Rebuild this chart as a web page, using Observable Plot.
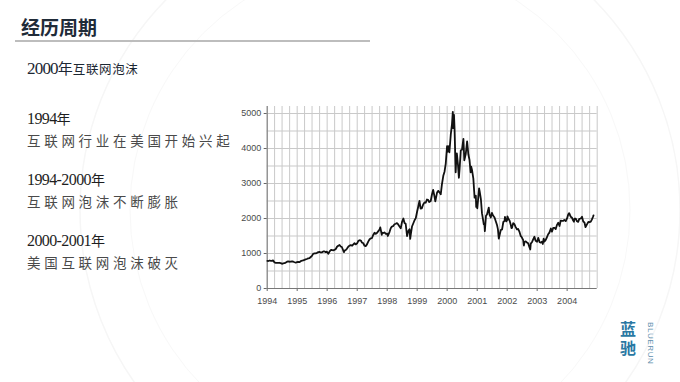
<!DOCTYPE html>
<html>
<head>
<meta charset="utf-8">
<script src="https://cdn.jsdelivr.net/npm/d3@7"></script>
<script src="https://cdn.jsdelivr.net/npm/@observablehq/plot@0.6"></script>
<style>
  html, body { margin: 0; padding: 0; background: #ffffff; }
  #slide { position: relative; width: 680px; height: 382px; overflow: hidden; background: #fff; }
  #chart { position: absolute; left: 0; top: 0; }
  .t { position: absolute; white-space: nowrap; line-height: 1; }
  .cjk { font-family: "Noto Sans CJK SC", sans-serif; }
  .ser { font-family: "Liberation Serif", "DejaVu Serif", serif; }
  #title { left: 21px; top: 17px; font-size: 19px; font-weight: 700; color: #1f2b38; }
  #rule { position: absolute; left: 15px; top: 40px; width: 355px; height: 1.5px; background: #bdbdbd; }
  #sub { left: 27px; top: 60px; color: #1c2733; }
  .yr { font-size: 16px; color: #1e1e1e; letter-spacing: -0.6px; }
  .yrc { font-size: 14px; color: #1e1e1e; }
  .desc { font-size: 13.5px; color: #4a4a4a; letter-spacing: 3.7px; font-weight: 400; }
  #logo { font-family: "Noto Sans CJK SC", sans-serif; font-weight: 700; font-size: 16px; line-height: 1; writing-mode: vertical-rl; text-orientation: upright; letter-spacing: 2.5px; color: #2a78a3; }
  #logo3 { font-family: "Liberation Sans", sans-serif; font-size: 8px; color: #5f8fae; letter-spacing: 0.6px; transform-origin: 0 0; transform: rotate(90deg); }
</style>
</head>
<body>
<div id="slide">
  <svg id="bg" width="680" height="382" style="position:absolute;left:0;top:0">
    <circle cx="380" cy="210" r="300" fill="none" stroke="#f6f6f6" stroke-width="1.5"/>
    <circle cx="380" cy="210" r="250" fill="none" stroke="#f8f8f8" stroke-width="1"/>
  </svg>
  <div id="chart"></div>
  <div class="t cjk" id="title">经历周期</div>
  <div id="rule"></div>
  <div class="t" id="sub"><span class="ser" style="font-size:17px;letter-spacing:-0.8px">2000</span><span class="cjk" style="font-size:15px">年</span><span class="cjk" style="font-size:12.5px;letter-spacing:0.6px">互联网泡沫</span></div>

  <div class="t" style="left:27px;top:111px"><span class="ser yr">1994</span><span class="cjk yrc">年</span></div>
  <div class="t cjk desc" style="left:27px;top:134px">互联网行业在美国开始兴起</div>

  <div class="t" style="left:27px;top:172px"><span class="ser yr">1994-2000</span><span class="cjk yrc">年</span></div>
  <div class="t cjk desc" style="left:27px;top:195px">互联网泡沫不断膨胀</div>

  <div class="t" style="left:27px;top:233px"><span class="ser yr">2000-2001</span><span class="cjk yrc">年</span></div>
  <div class="t cjk desc" style="left:27px;top:256px">美国互联网泡沫破灭</div>

  <div class="t" id="logo" style="left:620px;top:321px">蓝驰</div>
  <div class="t" id="logo3" style="left:654px;top:322px">BLUERUN</div>
</div>
<script>
// ---- data (NASDAQ composite) ----
const dates = [
"1994-01-03","1994-01-15","1994-01-31","1994-02-15","1994-02-28","1994-03-15","1994-03-31","1994-04-15","1994-04-29","1994-05-15","1994-05-31","1994-06-15","1994-06-30","1994-07-15","1994-07-29","1994-08-15","1994-08-31","1994-09-15","1994-09-30","1994-10-14","1994-10-31","1994-11-15","1994-11-30","1994-12-15","1994-12-30",
"1995-01-13","1995-01-31","1995-02-15","1995-02-28","1995-03-15","1995-03-31","1995-04-13","1995-04-28","1995-05-15","1995-05-31","1995-06-15","1995-06-30","1995-07-14","1995-07-31","1995-08-15","1995-08-31","1995-09-15","1995-09-29","1995-10-13","1995-10-31","1995-11-15","1995-11-30","1995-12-15","1995-12-29",
"1996-01-15","1996-01-31","1996-02-15","1996-02-29","1996-03-15","1996-03-29","1996-04-15","1996-04-30","1996-05-15","1996-05-31","1996-06-14","1996-06-28","1996-07-15","1996-07-24","1996-07-31","1996-08-15","1996-08-30","1996-09-16","1996-09-30","1996-10-15","1996-10-31","1996-11-15","1996-11-29","1996-12-13","1996-12-31",
"1997-01-15","1997-01-31","1997-02-14","1997-02-28","1997-03-14","1997-03-31","1997-04-14","1997-04-30","1997-05-15","1997-05-30","1997-06-13","1997-06-30","1997-07-15","1997-07-31","1997-08-15","1997-08-29","1997-09-15","1997-09-30","1997-10-09","1997-10-27","1997-10-31","1997-11-14","1997-11-28","1997-12-15","1997-12-31",
"1998-01-09","1998-01-30","1998-02-13","1998-02-27","1998-03-13","1998-03-31","1998-04-15","1998-04-30","1998-05-15","1998-05-29","1998-06-15","1998-06-30","1998-07-17","1998-07-31","1998-08-14","1998-08-31","1998-09-15","1998-09-30","1998-10-08","1998-10-15","1998-10-30","1998-11-13","1998-11-30","1998-12-15","1998-12-31",
"1999-01-15","1999-01-29","1999-02-12","1999-02-26","1999-03-15","1999-03-31","1999-04-15","1999-04-30","1999-05-14","1999-05-28","1999-06-15","1999-06-30","1999-07-15","1999-07-30","1999-08-10","1999-08-31","1999-09-15","1999-09-30","1999-10-15","1999-10-29","1999-11-15","1999-11-30","1999-12-15","1999-12-31",
"2000-01-04","2000-01-14","2000-01-28","2000-02-15","2000-02-29","2000-03-10","2000-03-15","2000-03-24","2000-03-31","2000-04-14","2000-04-20","2000-04-28","2000-05-12","2000-05-23","2000-05-31","2000-06-15","2000-06-30","2000-07-17","2000-07-28","2000-08-15","2000-08-31","2000-09-15","2000-09-29","2000-10-13","2000-10-20","2000-10-31","2000-11-15","2000-11-30","2000-12-15","2000-12-20","2000-12-29",
"2001-01-02","2001-01-24","2001-01-31","2001-02-15","2001-02-28","2001-03-15","2001-03-22","2001-03-30","2001-04-04","2001-04-18","2001-04-30","2001-05-22","2001-05-31","2001-06-15","2001-06-29","2001-07-13","2001-07-31","2001-08-15","2001-08-31","2001-09-10","2001-09-21","2001-09-28","2001-10-15","2001-10-31","2001-11-15","2001-11-30","2001-12-05","2001-12-20","2001-12-31",
"2002-01-04","2002-01-15","2002-01-31","2002-02-15","2002-02-22","2002-02-28","2002-03-15","2002-03-28","2002-04-15","2002-04-30","2002-05-15","2002-05-31","2002-06-14","2002-06-28","2002-07-15","2002-07-23","2002-07-31","2002-08-15","2002-08-30","2002-09-13","2002-09-30","2002-10-09","2002-10-15","2002-10-31","2002-11-15","2002-11-29","2002-12-13","2002-12-31",
"2003-01-14","2003-01-31","2003-02-14","2003-02-28","2003-03-11","2003-03-21","2003-03-31","2003-04-15","2003-04-30","2003-05-15","2003-05-30","2003-06-17","2003-06-30","2003-07-15","2003-07-31","2003-08-15","2003-08-29","2003-09-15","2003-09-30","2003-10-15","2003-10-31","2003-11-14","2003-11-28","2003-12-15","2003-12-31",
"2004-01-15","2004-01-26","2004-02-13","2004-02-27","2004-03-15","2004-03-24","2004-03-31","2004-04-15","2004-04-30","2004-05-14","2004-05-28","2004-06-15","2004-06-30","2004-07-15","2004-07-30","2004-08-12","2004-08-31","2004-09-15","2004-09-30","2004-10-15","2004-10-29","2004-11-10","2004-11-17"
];
const values = [
790,785,800,790,793,800,743,735,733,730,735,725,706,715,722,740,765,775,764,770,777,765,750,740,752,
760,755,785,793,805,817,830,843,860,865,900,933,990,1001,1005,1020,1040,1044,1035,1036,1060,1059,1040,1052,
990,1060,1100,1100,1090,1101,1130,1191,1220,1243,1200,1185,1085,1040,1081,1100,1141,1200,1226,1240,1222,1260,1293,1260,1291,
1360,1380,1370,1309,1300,1222,1210,1261,1340,1400,1430,1442,1530,1594,1560,1587,1640,1686,1745,1535,1594,1585,1601,1560,1570,
1500,1619,1720,1771,1780,1835,1850,1869,1830,1779,1720,1895,2000,1872,1850,1499,1640,1694,1419,1540,1771,1850,1950,2010,2193,
2350,2505,2280,2288,2400,2461,2450,2543,2530,2471,2500,2686,2820,2638,2490,2739,2790,2746,2690,2966,3220,3336,3570,4069,
3901,4065,3887,4420,4697,5048,4580,4963,4573,3321,3643,3861,3530,3164,3401,3950,3966,4274,3663,3850,4206,3835,3673,3316,3483,3370,3138,2598,2653,2332,2471,
2291,2859,2773,2550,2152,1940,1830,1840,1638,2079,2116,2313,2110,2030,2161,2085,2027,1920,1805,1695,1423,1499,1670,1690,1900,1931,2046,1918,1950,
2059,1990,1934,1805,1725,1731,1868,1845,1756,1688,1700,1616,1505,1463,1380,1229,1328,1345,1315,1291,1172,1114,1282,1330,1411,1479,1362,1336,
1446,1321,1310,1337,1272,1422,1341,1390,1464,1550,1596,1715,1623,1730,1735,1700,1810,1880,1787,1940,1932,1930,1960,1925,2003,
2120,2153,2053,2030,1940,1909,1994,1995,1920,1904,1987,2000,2048,1912,1887,1752,1838,1900,1897,1911,1975,2043,2090
];
const yearTicks = [1994,1995,1996,1997,1998,1999,2000,2001,2002,2003,2004];
const yTicks = [0,1000,2000,3000,4000,5000];
const yGrid = [500,1000,1500,2000,2500,3000,3500,4000,4500,5000];

const data = dates.map((d, i) => ({date: new Date(d), value: values[i]}));
const x0 = new Date(Date.UTC(1994, 0, 1));
const x1 = new Date(Date.UTC(2005, 0, 1));
const quarters = d3.utcMonth.every(3).range(x0, new Date(Date.UTC(2005, 0, 2)));

const chart = Plot.plot({
  width: 680,
  height: 382,
  marginLeft: 266.7,
  marginRight: 83.3,
  marginTop: 106,
  marginBottom: 94,
  x: {type: "utc", domain: [x0, x1]},
  y: {domain: [0, 5200]},
  style: {background: "transparent", fontFamily: "Liberation Sans, Arial, sans-serif", fontSize: "9px", color: "#4a4a4a"},
  marks: [
    Plot.ruleX(quarters, {stroke: "#c9c9c9", strokeWidth: 1}),
    Plot.ruleY(yGrid, {stroke: "#c9c9c9", strokeWidth: 1}),
    Plot.axisY(yTicks, {tickSize: 3, tickPadding: 3, label: null, stroke: "#666", tickFormat: d => String(d)}),
    Plot.axisX(yearTicks.map(y => new Date(Date.UTC(y, 0, 1))), {tickFormat: "%Y", tickSize: 3, tickPadding: 6, label: null, stroke: "#666"}),
    Plot.ruleX([x0], {stroke: "#777", strokeWidth: 1}),
    Plot.ruleY([0], {stroke: "#777", strokeWidth: 1}),
    Plot.line(data, {x: "date", y: "value", stroke: "#111", strokeWidth: 1.8, strokeLinejoin: "round"})
  ]
});
document.getElementById("chart").appendChild(chart);
</script>
</body>
</html>
